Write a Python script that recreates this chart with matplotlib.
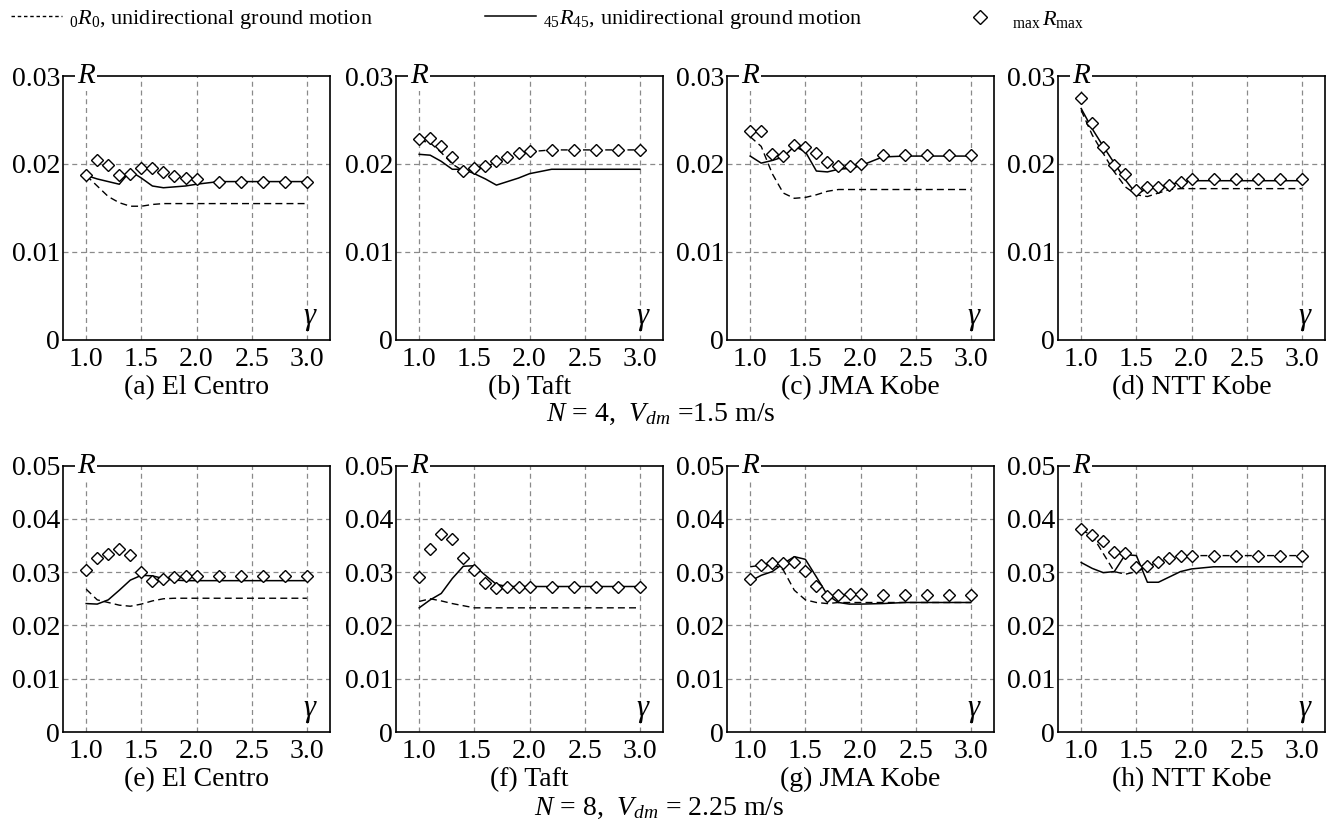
import matplotlib
matplotlib.use("Agg")
import matplotlib.pyplot as plt
from matplotlib.lines import Line2D

plt.rcParams['font.family'] = ['Liberation Serif', 'DejaVu Serif']
plt.rcParams['mathtext.fontset'] = 'custom'
plt.rcParams['mathtext.rm'] = 'Liberation Serif'
plt.rcParams['mathtext.it'] = 'Liberation Serif:italic'

gamma = [1.0, 1.1, 1.2, 1.3, 1.4, 1.5, 1.6, 1.7, 1.8, 1.9, 2.0, 2.2, 2.4, 2.6, 2.8, 3.0]

# N = 4, Vdm = 1.5 m/s
a_r0 = [0.0187, 0.0175, 0.0163, 0.0156, 0.0152, 0.0152, 0.0154, 0.0155, 0.0155, 0.0155, 0.0155, 0.0155, 0.0155, 0.0155, 0.0155, 0.0155]
a_r45 = [0.0187, 0.0183, 0.0180, 0.0177, 0.0192, 0.0184, 0.0175, 0.0173, 0.0174, 0.0175, 0.0177, 0.0180, 0.0180, 0.0180, 0.0180, 0.0180]
a_max = [0.0187, 0.0205, 0.0199, 0.0188, 0.0189, 0.0196, 0.0196, 0.0191, 0.0186, 0.0184, 0.0183, 0.0180, 0.0180, 0.0180, 0.0180, 0.0180]

b_r0 = [0.0227, 0.0224, 0.0213, 0.0200, 0.0192, 0.0194, 0.0197, 0.0202, 0.0207, 0.0211, 0.0214, 0.0216, 0.0216, 0.0216, 0.0216, 0.0216]
b_r45 = [0.0211, 0.0210, 0.0203, 0.0194, 0.0194, 0.0189, 0.0183, 0.0176, 0.0180, 0.0184, 0.0189, 0.0194, 0.0194, 0.0194, 0.0194, 0.0194]
b_max = [0.0228, 0.0229, 0.0220, 0.0208, 0.0192, 0.0195, 0.0198, 0.0203, 0.0208, 0.0212, 0.0215, 0.0216, 0.0216, 0.0216, 0.0216, 0.0216]

c_r0 = [0.0231, 0.0220, 0.0189, 0.0167, 0.0161, 0.0162, 0.0165, 0.0169, 0.0171, 0.0171, 0.0171, 0.0171, 0.0171, 0.0171, 0.0171, 0.0171]
c_r45 = [0.0209, 0.0201, 0.0204, 0.0208, 0.0220, 0.0214, 0.0192, 0.0191, 0.0194, 0.0195, 0.0198, 0.0208, 0.0209, 0.0209, 0.0209, 0.0209]
c_max = [0.0238, 0.0237, 0.0211, 0.0209, 0.0222, 0.0219, 0.0212, 0.0202, 0.0198, 0.0198, 0.0200, 0.0210, 0.0210, 0.0210, 0.0210, 0.0210]

d_r0 = [0.0261, 0.0233, 0.0212, 0.0191, 0.0174, 0.0165, 0.0163, 0.0167, 0.0171, 0.0172, 0.0172, 0.0172, 0.0172, 0.0172, 0.0172, 0.0172]
d_r45 = [0.0263, 0.0240, 0.0220, 0.0201, 0.0182, 0.0166, 0.0172, 0.0174, 0.0177, 0.0179, 0.0181, 0.0181, 0.0181, 0.0181, 0.0181, 0.0181]
d_max = [0.0275, 0.0247, 0.0219, 0.0199, 0.0189, 0.0171, 0.0174, 0.0174, 0.0176, 0.0180, 0.0183, 0.0183, 0.0183, 0.0183, 0.0183, 0.0183]

# N = 8, Vdm = 2.25 m/s
e_r0 = [0.0268, 0.0248, 0.0243, 0.0238, 0.0236, 0.0240, 0.0246, 0.0250, 0.0251, 0.0251, 0.0251, 0.0251, 0.0251, 0.0251, 0.0251, 0.0251]
e_r45 = [0.0241, 0.0240, 0.0248, 0.0266, 0.0285, 0.0294, 0.0293, 0.0288, 0.0285, 0.0284, 0.0284, 0.0284, 0.0284, 0.0284, 0.0284, 0.0284]
e_max = [0.0304, 0.0327, 0.0334, 0.0343, 0.0333, 0.0300, 0.0283, 0.0287, 0.0291, 0.0293, 0.0293, 0.0293, 0.0293, 0.0293, 0.0293, 0.0293]

f_r0 = [0.0245, 0.0250, 0.0246, 0.0241, 0.0237, 0.0233, 0.0233, 0.0233, 0.0233, 0.0233, 0.0233, 0.0233, 0.0233, 0.0233, 0.0233, 0.0233]
f_r45 = [0.0233, 0.0248, 0.0260, 0.0288, 0.0311, 0.0312, 0.0294, 0.0277, 0.0273, 0.0273, 0.0273, 0.0273, 0.0273, 0.0273, 0.0273, 0.0273]
f_max = [0.0291, 0.0344, 0.0371, 0.0362, 0.0327, 0.0304, 0.0280, 0.0271, 0.0273, 0.0273, 0.0273, 0.0273, 0.0273, 0.0273, 0.0273, 0.0273]

g_r0 = [0.0310, 0.0313, 0.0316, 0.0304, 0.0266, 0.0248, 0.0243, 0.0241, 0.0243, 0.0243, 0.0243, 0.0243, 0.0243, 0.0243, 0.0243, 0.0243]
g_r45 = [0.0283, 0.0294, 0.0301, 0.0316, 0.0329, 0.0324, 0.0291, 0.0257, 0.0243, 0.0240, 0.0240, 0.0241, 0.0243, 0.0243, 0.0243, 0.0243]
g_max = [0.0288, 0.0313, 0.0317, 0.0317, 0.0319, 0.0302, 0.0274, 0.0255, 0.0257, 0.0259, 0.0259, 0.0258, 0.0258, 0.0258, 0.0258, 0.0258]

h_r0 = [0.0379, 0.0369, 0.0335, 0.0301, 0.0296, 0.0301, 0.0310, 0.0319, 0.0327, 0.0331, 0.0331, 0.0331, 0.0331, 0.0331, 0.0331, 0.0331]
h_r45 = [0.0318, 0.0307, 0.0299, 0.0301, 0.0333, 0.0331, 0.0281, 0.0281, 0.0291, 0.0301, 0.0306, 0.0310, 0.0310, 0.0310, 0.0310, 0.0310]
h_max = [0.0380, 0.0369, 0.0358, 0.0337, 0.0335, 0.0310, 0.0312, 0.0319, 0.0327, 0.0331, 0.0331, 0.0331, 0.0331, 0.0331, 0.0331, 0.0331]

captions = ["(a) El Centro", "(b) Taft", "(c) JMA Kobe", "(d) NTT Kobe",
            "(e) El Centro", "(f) Taft", "(g) JMA Kobe", "(h) NTT Kobe"]
panels = [(a_r0, a_r45, a_max), (b_r0, b_r45, b_max), (c_r0, c_r45, c_max), (d_r0, d_r45, d_max),
          (e_r0, e_r45, e_max), (f_r0, f_r45, f_max), (g_r0, g_r45, g_max), (h_r0, h_r45, h_max)]
top_yticks = [0, 0.01, 0.02, 0.03]
bottom_yticks = [0, 0.01, 0.02, 0.03, 0.04, 0.05]
xticks = [1.0, 1.5, 2.0, 2.5, 3.0]

fig = plt.figure(figsize=(13.32, 8.19), dpi=100)

lefts = [0.0473, 0.2973, 0.5458, 0.7943]
rows = [(0.5849, 0.3223), (0.1062, 0.3254)]
dash = (0, (5, 3))

for i in range(8):
    r = i // 4
    c = i % 4
    bottom, height = rows[r]
    ax = fig.add_axes([lefts[c], bottom, 0.2005, height])
    r0, r45, rmax = panels[i]
    ax.plot(gamma, r0, color='black', lw=1.0, linestyle=dash, zorder=3)
    ax.plot(gamma, r45, color='black', lw=1.1, zorder=3)
    ax.plot(gamma, rmax, linestyle='none', marker='D', markersize=6.5,
            markerfacecolor='white', markeredgecolor='black', markeredgewidth=1.0, zorder=4)
    yt = top_yticks if r == 0 else bottom_yticks
    ax.set_ylim(0, yt[-1])
    ax.set_xlim(0.79, 3.21)
    ax.set_yticks(yt)
    ax.set_yticklabels(["0"] + ["%.2f" % v for v in yt[1:]])
    ax.set_xticks(xticks)
    ax.set_xticklabels(["%.1f" % v for v in xticks])
    ax.tick_params(axis='x', length=0, labelsize=20, pad=5)
    ax.tick_params(axis='y', length=0, labelsize=20, pad=2)
    ax.grid(True, color='#8a8a8a', linestyle=(0, (4, 3)), lw=0.9)
    # no gridline on the frame itself
    ax.get_ygridlines()[0].set_visible(False)
    ax.get_ygridlines()[-1].set_visible(False)
    for s in ax.spines.values():
        s.set_linewidth(1.2)
    ax.text(1.0, 1.0, "R", transform=ax.get_xaxis_transform(), fontsize=21, style='italic',
            ha='center', va='center', zorder=6,
            bbox=dict(facecolor='white', edgecolor='none', pad=1.5), clip_on=False)
    ax.text(3.035, 0.08, r"$\gamma$", transform=ax.get_xaxis_transform(), fontsize=22,
            ha='center', va='center')
    cy = 0.527 if r == 0 else 0.048
    fig.text(lefts[c] + 0.1003, cy, captions[i], fontsize=20, ha='center', va='center')

fig.text(0.496, 0.494, r"$N$ = 4,  $V_{dm}$ =1.5 m/s", fontsize=20, ha='center', va='center')
fig.text(0.495, 0.013, r"$N$ = 8,  $V_{dm}$ = 2.25 m/s", fontsize=20, ha='center', va='center')

h0 = Line2D([], [], color='black', lw=1.0, linestyle=(0, (2.5, 2)))
h45 = Line2D([], [], color='black', lw=1.1)
hmax = Line2D([], [], linestyle='none', marker='D', markersize=7, markerfacecolor='white',
              markeredgecolor='black')

leg_kw = dict(frameon=False, fontsize=16, handlelength=2.3, handletextpad=0.3, borderpad=0, loc='center left')
fig.legend([h0], [r"${}_{0}R_{0}$, unidirectional ground motion"], bbox_to_anchor=(0.0, 0.976), **leg_kw)
fig.legend([h45], [r"${}_{45}R_{45}$, unidirectional ground motion"], bbox_to_anchor=(0.356, 0.976), **leg_kw)
fig.legend([hmax], [r"${}_{\max}\,R_{\max}$"], bbox_to_anchor=(0.708, 0.976), **leg_kw)

fig.savefig("out.png", dpi=100)
